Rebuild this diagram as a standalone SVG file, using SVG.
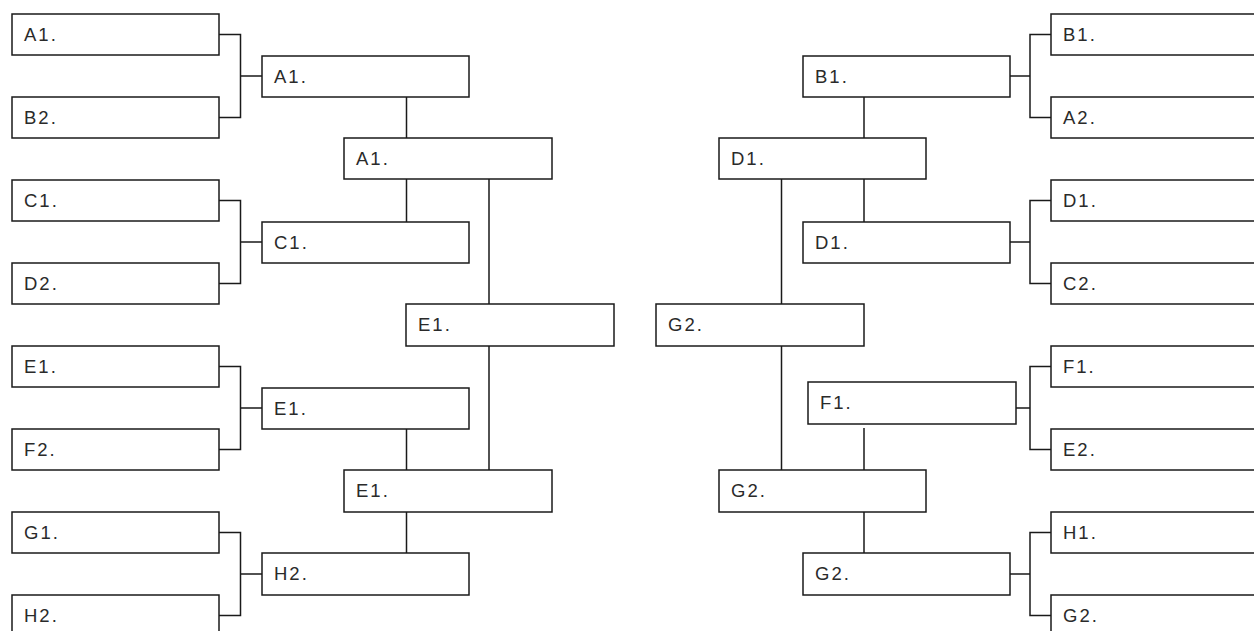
<svg xmlns="http://www.w3.org/2000/svg" width="1254" height="631" viewBox="0 0 1254 631">
<style>
.box{fill:#fff;stroke:#1a1a1a;stroke-width:1.5}
.lbl{font-family:"Liberation Sans",Arial,sans-serif;font-size:18.5px;letter-spacing:2px;fill:#2a2a2a}
.con{fill:none;stroke:#1a1a1a;stroke-width:1.5}
</style>
<rect width="1254" height="631" fill="#fff"/>
<g id="connectors" class="con">
<path d="M219 34.5H240.5V117.5H219M240.5 76H262"/>
<path d="M219 200.5H240.5V283.5H219M240.5 242H262"/>
<path d="M219 366.5H240.5V449.5H219M240.5 408H262"/>
<path d="M219 532.5H240.5V615.5H219M240.5 574H262"/>
<path d="M406.5 97V138M406.5 179V222M406.5 429V470M406.5 512V553"/>
<path d="M489 179V304M489 346V470"/>
<path d="M1051 34.5H1030V117.5H1051M1030 76H1010"/>
<path d="M1051 200.5H1030V283.5H1051M1030 242H1010"/>
<path d="M1051 366.5H1030V449.5H1051M1030 408H1011"/>
<path d="M1051 532.5H1030V615.5H1051M1030 574H1010"/>
<path d="M864 97V138M864 179V222M864 428V470M864 512V553"/>
<path d="M781.5 179V304M781.5 346V470"/>
</g>
<g id="L1-A1"><rect class="box" x="12" y="14" width="207" height="41"/><text class="lbl" x="24" y="41">A1.</text></g>
<g id="L1-B2"><rect class="box" x="12" y="97" width="207" height="41"/><text class="lbl" x="24" y="124">B2.</text></g>
<g id="L1-C1"><rect class="box" x="12" y="180" width="207" height="41"/><text class="lbl" x="24" y="207">C1.</text></g>
<g id="L1-D2"><rect class="box" x="12" y="263" width="207" height="41"/><text class="lbl" x="24" y="290">D2.</text></g>
<g id="L1-E1"><rect class="box" x="12" y="346" width="207" height="41"/><text class="lbl" x="24" y="373">E1.</text></g>
<g id="L1-F2"><rect class="box" x="12" y="429" width="207" height="41"/><text class="lbl" x="24" y="456">F2.</text></g>
<g id="L1-G1"><rect class="box" x="12" y="512" width="207" height="41"/><text class="lbl" x="24" y="539">G1.</text></g>
<g id="L1-H2"><rect class="box" x="12" y="595" width="207" height="41"/><text class="lbl" x="24" y="622">H2.</text></g>
<g id="L2-A1"><rect class="box" x="262" y="56" width="207" height="41"/><text class="lbl" x="274" y="83">A1.</text></g>
<g id="L2-C1"><rect class="box" x="262" y="222" width="207" height="41"/><text class="lbl" x="274" y="249">C1.</text></g>
<g id="L2-E1"><rect class="box" x="262" y="388" width="207" height="41"/><text class="lbl" x="274" y="415">E1.</text></g>
<g id="L2-H2"><rect class="box" x="262" y="553" width="207" height="42"/><text class="lbl" x="274" y="580">H2.</text></g>
<g id="L3-A1"><rect class="box" x="344" y="138" width="208" height="41"/><text class="lbl" x="356" y="165">A1.</text></g>
<g id="L3-E1"><rect class="box" x="344" y="470" width="208" height="42"/><text class="lbl" x="356" y="497">E1.</text></g>
<g id="L4-E1"><rect class="box" x="406" y="304" width="208" height="42"/><text class="lbl" x="418" y="331">E1.</text></g>
<g id="R4-G2"><rect class="box" x="656" y="304" width="208" height="42"/><text class="lbl" x="668" y="331">G2.</text></g>
<g id="R3-D1"><rect class="box" x="719" y="138" width="207" height="41"/><text class="lbl" x="731" y="165">D1.</text></g>
<g id="R3-G2"><rect class="box" x="719" y="470" width="207" height="42"/><text class="lbl" x="731" y="497">G2.</text></g>
<g id="R2-B1"><rect class="box" x="803" y="56" width="207" height="41"/><text class="lbl" x="815" y="83">B1.</text></g>
<g id="R2-D1"><rect class="box" x="803" y="222" width="207" height="41"/><text class="lbl" x="815" y="249">D1.</text></g>
<g id="R2-F1"><rect class="box" x="808" y="382" width="208" height="42"/><text class="lbl" x="820" y="409">F1.</text></g>
<g id="R2-G2"><rect class="box" x="803" y="553" width="207" height="42"/><text class="lbl" x="815" y="580">G2.</text></g>
<g id="R1-B1"><rect class="box" x="1051" y="14" width="210" height="41"/><text class="lbl" x="1063" y="41">B1.</text></g>
<g id="R1-A2"><rect class="box" x="1051" y="97" width="210" height="41"/><text class="lbl" x="1063" y="124">A2.</text></g>
<g id="R1-D1"><rect class="box" x="1051" y="180" width="210" height="41"/><text class="lbl" x="1063" y="207">D1.</text></g>
<g id="R1-C2"><rect class="box" x="1051" y="263" width="210" height="41"/><text class="lbl" x="1063" y="290">C2.</text></g>
<g id="R1-F1"><rect class="box" x="1051" y="346" width="210" height="41"/><text class="lbl" x="1063" y="373">F1.</text></g>
<g id="R1-E2"><rect class="box" x="1051" y="429" width="210" height="41"/><text class="lbl" x="1063" y="456">E2.</text></g>
<g id="R1-H1"><rect class="box" x="1051" y="512" width="210" height="41"/><text class="lbl" x="1063" y="539">H1.</text></g>
<g id="R1-G2"><rect class="box" x="1051" y="595" width="210" height="41"/><text class="lbl" x="1063" y="622">G2.</text></g>
</svg>
